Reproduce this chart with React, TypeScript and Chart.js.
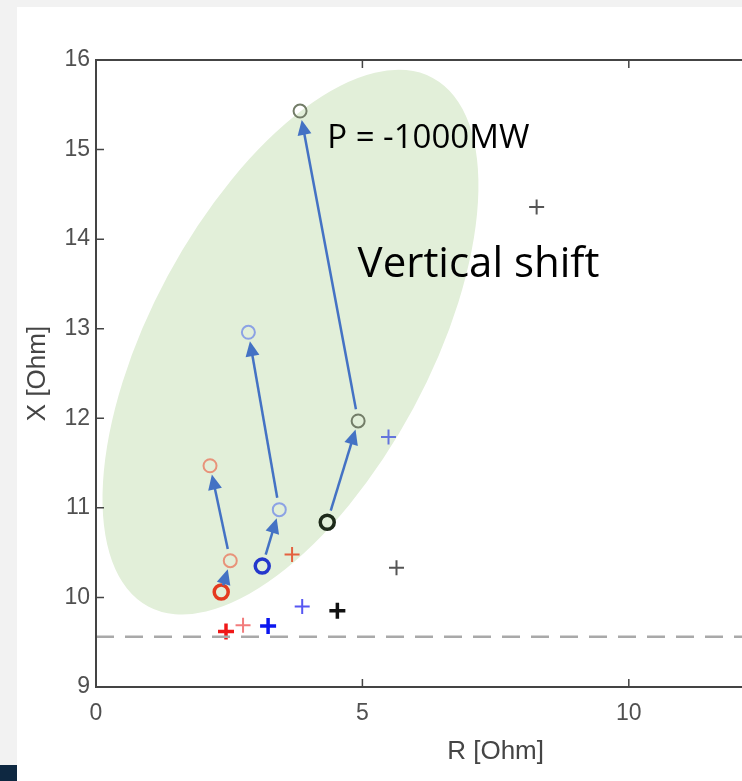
import React, { useEffect, useRef } from "react";
import { Chart, registerables } from "chart.js";

Chart.register(...registerables);

// ---- axis ranges / ticks ----
const X_MIN = 0;
const X_MAX = 15;
const X_STEP = 5;
const Y_MIN = 9;
const Y_MAX = 16;
const Y_STEP = 1;
const X_TITLE = "R [Ohm]";
const Y_TITLE = "X [Ohm]";

// ---- circles (o markers) ----
const redCircleBold = [{ x: 2.35, y: 10.06 }];
const redCircleLight = [
  { x: 2.52, y: 10.41 },
  { x: 2.14, y: 11.47 },
];
const blueCircleBold = [{ x: 3.12, y: 10.35 }];
const blueCircleLight = [
  { x: 3.44, y: 10.98 },
  { x: 2.86, y: 12.96 },
];
const blackCircleBold = [{ x: 4.34, y: 10.84 }];
const grayCircleLight = [
  { x: 4.92, y: 11.97 },
  { x: 3.83, y: 15.43 },
];

// ---- crosses (+ markers) ----
const redCrossBold = [{ x: 2.44, y: 9.62 }];
const redCrossLight = [
  { x: 2.76, y: 9.69 },
  { x: 3.68, y: 10.48 },
];
const redCrossLightColors = ["#f27c7c", "#e4613f"];
const blueCrossBold = [{ x: 3.23, y: 9.68 }];
const blueCrossLight = [
  { x: 3.87, y: 9.9 },
  { x: 5.49, y: 11.79 },
];
const blueCrossLightColors = ["#5757f2", "#6475dc"];
const blackCrossBold = [{ x: 4.53, y: 9.85 }];
const grayCrossLight = [
  { x: 5.64, y: 10.33 },
  { x: 8.27, y: 14.36 },
];

// ---- dashed limit line ----
const limitX = [0, 15];
const limitY = 9.56;

// ---- arrows (from -> to) ----
const arrowPairs = [
  [redCircleBold[0], redCircleLight[0]],
  [redCircleLight[0], redCircleLight[1]],
  [blueCircleBold[0], blueCircleLight[0]],
  [blueCircleLight[0], blueCircleLight[1]],
  [blackCircleBold[0], grayCircleLight[0]],
  [grayCircleLight[0], grayCircleLight[1]],
];

// ---- highlighted region (ellipse) in data units ----
const ellipseCenter = { x: 3.65, y: 12.85 };
const ellipseMajorEnd = { x: 6.32, y: 15.8 };
const ellipseMinorRatio = 0.465;

// ---- text annotations ----
const annotations = [
  { text: "P = -1000MW", x: 4.34, y: 15.02, size: 33 },
  { text: "Vertical shift", x: 4.91, y: 13.58, size: 42 },
];

const annotatePlugin = {
  id: "annotate",
  beforeDatasetsDraw(chart: any) {
    const { ctx } = chart;
    const xs = chart.scales.x;
    const ys = chart.scales.y;
    const cx = xs.getPixelForValue(ellipseCenter.x);
    const cy = ys.getPixelForValue(ellipseCenter.y);
    const ex = xs.getPixelForValue(ellipseMajorEnd.x);
    const ey = ys.getPixelForValue(ellipseMajorEnd.y);
    const a = Math.hypot(ex - cx, ey - cy);
    const ang = Math.atan2(ey - cy, ex - cx);
    ctx.save();
    ctx.fillStyle = "#e2efd9";
    ctx.beginPath();
    ctx.ellipse(cx, cy, a, a * ellipseMinorRatio, ang, 0, Math.PI * 2);
    ctx.fill();
    ctx.restore();
  },
  afterDatasetsDraw(chart: any) {
    const { ctx } = chart;
    const xs = chart.scales.x;
    const ys = chart.scales.y;
    ctx.save();
    ctx.strokeStyle = "#4472c4";
    ctx.fillStyle = "#4472c4";
    ctx.lineWidth = 2.5;
    arrowPairs.forEach(([p, q], i) => {
      const x1 = xs.getPixelForValue(p.x);
      const y1 = ys.getPixelForValue(p.y);
      const x2 = xs.getPixelForValue(q.x);
      const y2 = ys.getPixelForValue(q.y);
      const d = Math.hypot(x2 - x1, y2 - y1);
      const ux = (x2 - x1) / d;
      const uy = (y2 - y1) / d;
      const g0 = i === 0 ? 7 : 12;
      const g1 = 9;
      const sx = x1 + ux * g0;
      const sy = y1 + uy * g0;
      const tx = x2 - ux * g1;
      const ty = y2 - uy * g1;
      const hl = 15;
      const hw = 7;
      const bx = tx - ux * hl;
      const by = ty - uy * hl;
      ctx.beginPath();
      ctx.moveTo(sx, sy);
      ctx.lineTo(bx + ux * 2, by + uy * 2);
      ctx.stroke();
      ctx.beginPath();
      ctx.moveTo(tx, ty);
      ctx.lineTo(bx - uy * hw, by + ux * hw);
      ctx.lineTo(bx + uy * hw, by - ux * hw);
      ctx.closePath();
      ctx.fill();
    });
    ctx.restore();
  },
  afterDraw(chart: any) {
    const { ctx, chartArea } = chart;
    const xs = chart.scales.x;
    const ys = chart.scales.y;
    const { left, right, top, bottom } = chartArea;
    ctx.save();
    ctx.strokeStyle = "#444444";
    ctx.lineWidth = 2;
    ctx.beginPath();
    ctx.moveTo(right, top);
    ctx.lineTo(left, top);
    ctx.lineTo(left, bottom);
    ctx.lineTo(right, bottom);
    ctx.lineTo(right, top);
    ctx.stroke();
    const tl = 8;
    ctx.beginPath();
    xs.ticks.forEach((t: any) => {
      const px = xs.getPixelForValue(t.value);
      ctx.moveTo(px, bottom);
      ctx.lineTo(px, bottom - tl);
      ctx.moveTo(px, top);
      ctx.lineTo(px, top + tl);
    });
    ys.ticks.forEach((t: any) => {
      const py = ys.getPixelForValue(t.value);
      ctx.moveTo(left, py);
      ctx.lineTo(left + tl, py);
      ctx.moveTo(right, py);
      ctx.lineTo(right - tl, py);
    });
    ctx.lineWidth = 1.5;
    ctx.stroke();

    ctx.fillStyle = "#000000";
    ctx.textBaseline = "alphabetic";
    ctx.textAlign = "left";
    annotations.forEach((a) => {
      ctx.font = `${a.size}px "Open Sans", "Noto Sans", sans-serif`;
      ctx.fillText(a.text, xs.getPixelForValue(a.x), ys.getPixelForValue(a.y));
    });
    ctx.restore();
  },
};

function circleSet(data: any[], color: any, width: number, radius: number) {
  return {
    type: "scatter",
    data,
    pointStyle: "circle",
    pointRadius: radius,
    pointBorderWidth: width,
    pointBorderColor: color,
    pointBackgroundColor: "rgba(0,0,0,0)",
    showLine: false,
  };
}

function crossSet(data: any[], color: any, width: number, radius: number) {
  return {
    type: "scatter",
    data,
    pointStyle: "cross",
    pointRadius: radius,
    pointBorderWidth: width,
    pointBorderColor: color,
    pointBackgroundColor: color,
    showLine: false,
  };
}

const CANVAS_W = 921;
const CANVAS_H = 781;

export default function App() {
  const ref = useRef<HTMLCanvasElement | null>(null);

  useEffect(() => {
    if (!ref.current) return;
    const chart = new Chart(ref.current, {
      type: "scatter",
      data: {
        datasets: [
          {
            type: "line",
            data: limitX.map((x) => ({ x, y: limitY })),
            borderColor: "#a9a9a9",
            borderWidth: 2.5,
            borderDash: [18, 11],
            pointRadius: 0,
            fill: false,
          } as any,
          circleSet(redCircleBold, "#e43a1f", 3.5, 7),
          circleSet(redCircleLight, "#e8937a", 2, 6.5),
          circleSet(blueCircleBold, "#2437cc", 3.5, 7),
          circleSet(blueCircleLight, "#8ca2e4", 2, 6.5),
          circleSet(blackCircleBold, "#1e2a1a", 3.5, 7),
          circleSet(grayCircleLight, "#737d68", 2, 6.5),
          crossSet(redCrossBold, "#f01818", 3.5, 8),
          crossSet(redCrossLight, redCrossLightColors, 2, 7.5),
          crossSet(blueCrossBold, "#0b16f0", 3.5, 8),
          crossSet(blueCrossLight, blueCrossLightColors, 2, 7.5),
          crossSet(blackCrossBold, "#111111", 3.5, 8),
          crossSet(grayCrossLight, "#555555", 2, 7.5),
        ] as any,
      },
      options: {
        responsive: false,
        animation: false,
        events: [],
        layout: { padding: { left: 0, top: 60, right: 6, bottom: 0 } },
        plugins: {
          legend: { display: false },
          tooltip: { enabled: false },
        },
        scales: {
          x: {
            type: "linear",
            min: X_MIN,
            max: X_MAX,
            grid: { display: false, drawTicks: false },
            border: { display: false },
            ticks: {
              stepSize: X_STEP,
              padding: 13,
              color: "#505050",
              font: { family: "'Liberation Sans', Arial, sans-serif", size: 23 },
            },
            title: {
              display: true,
              text: X_TITLE,
              color: "#454545",
              font: { family: "'Liberation Sans', Arial, sans-serif", size: 26 },
              padding: { top: 0, bottom: 14 },
            },
            afterFit(scale: any) {
              scale.height = 94;
            },
          },
          y: {
            type: "linear",
            min: Y_MIN,
            max: Y_MAX,
            grid: { display: false, drawTicks: false },
            border: { display: false },
            ticks: {
              stepSize: Y_STEP,
              padding: 6,
              color: "#505050",
              font: { family: "'Liberation Sans', Arial, sans-serif", size: 23 },
            },
            title: {
              display: true,
              text: Y_TITLE,
              color: "#454545",
              font: { family: "'Liberation Sans', Arial, sans-serif", size: 26 },
              padding: { top: 22, bottom: 0 },
            },
            afterFit(scale: any) {
              scale.width = 96;
            },
          },
        },
      } as any,
      plugins: [annotatePlugin],
    });
    return () => chart.destroy();
  }, []);

  return (
    <div
      style={{
        position: "fixed",
        left: 0,
        top: 0,
        width: 742,
        height: 781,
        overflow: "hidden",
        background: "#f2f2f2",
      }}
    >
      <div
        style={{
          position: "absolute",
          left: 17,
          top: 7,
          right: 0,
          bottom: 0,
          background: "#ffffff",
        }}
      />
      <div
        style={{
          position: "absolute",
          left: 0,
          top: 765,
          width: 17,
          height: 16,
          background: "#0e2841",
        }}
      />
      <canvas
        ref={ref}
        width={CANVAS_W}
        height={CANVAS_H}
        style={{ position: "absolute", left: 0, top: 0, width: CANVAS_W, height: CANVAS_H }}
      />
    </div>
  );
}
